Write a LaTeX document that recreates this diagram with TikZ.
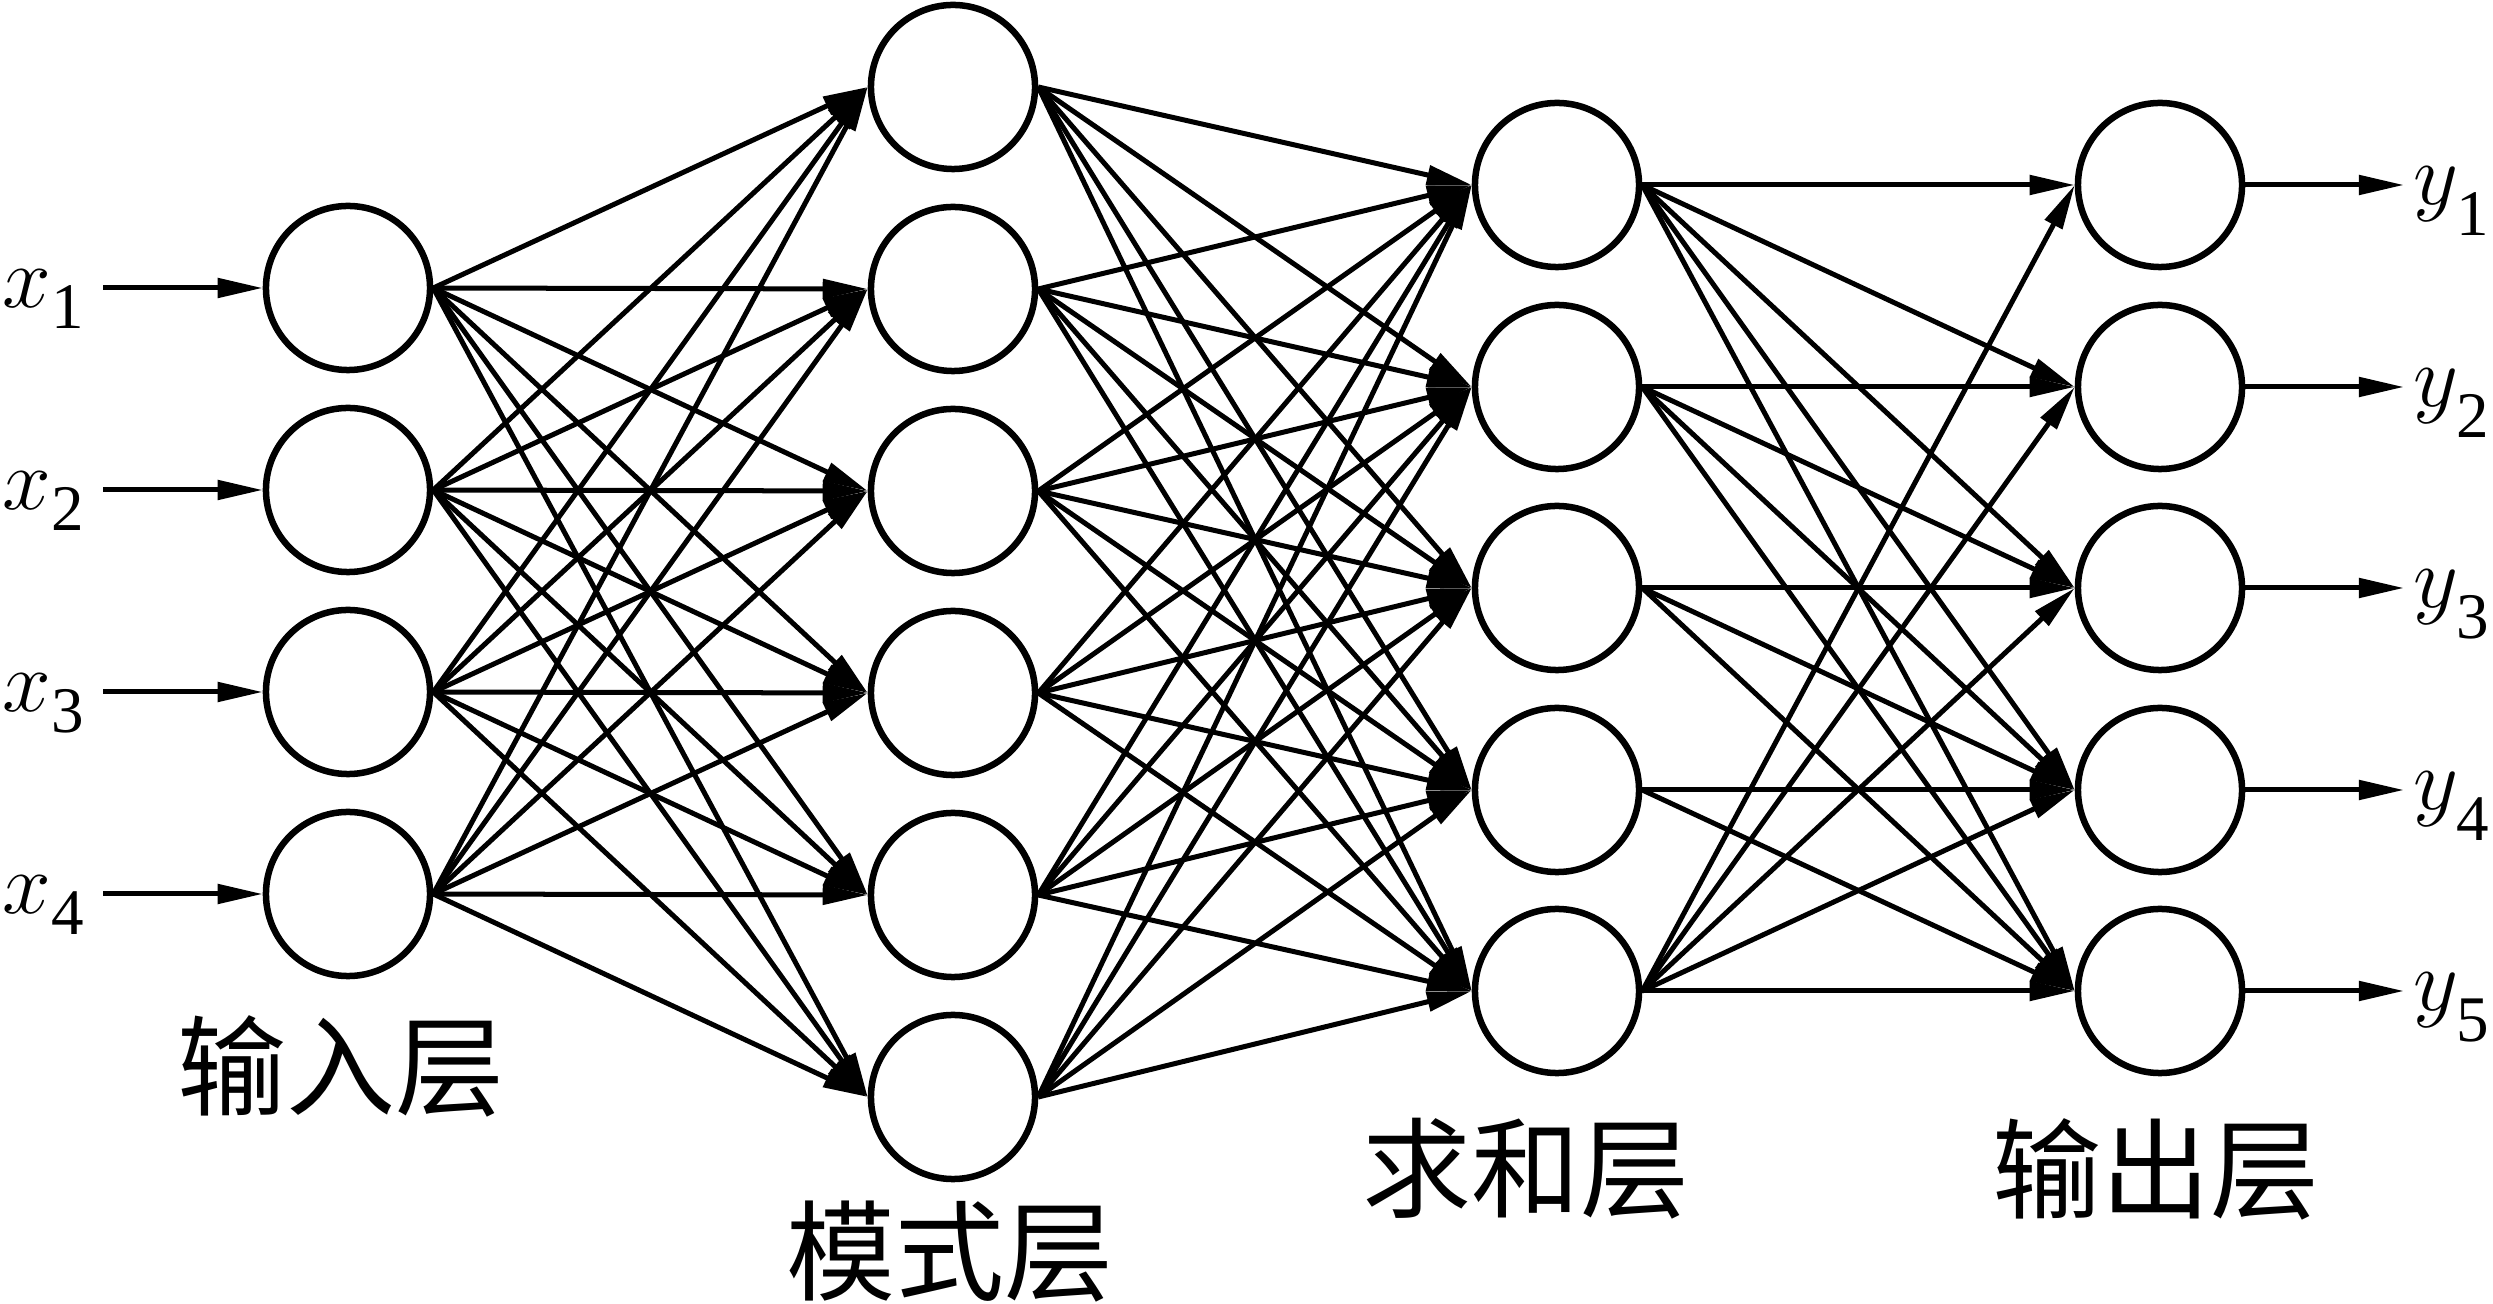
\documentclass[tikz,border=0pt]{standalone}
\usepackage{fontspec}
\setmainfont{Liberation Serif}[ItalicFont=Liberation Serif Italic]
\newfontfamily\cjk{Noto Sans CJK SC}
\usetikzlibrary{arrows.meta}
\newcommand{\subidx}[2]{\raisebox{-#1}{\fontsize{18.5}{18.5}\selectfont #2}}
\begin{document}
\begin{tikzpicture}[x=0.01cm,y=-0.01cm,
  neuron/.style={circle,draw,line width=0.065cm,minimum size=1.64cm,inner sep=0pt,outer sep=0.032cm},
  conn/.style={line width=0.05cm,-{Triangle[length=0.45cm,width=0.19cm]}},
  lbl/.style={font=\fontsize{34}{34}\selectfont,inner sep=0pt},
  layer/.style={font=\cjk\fontsize{31}{31}\selectfont,inner sep=0pt}]
\useasboundingbox (0,0) rectangle (2493,1304);

% input layer
\foreach \i/\y in {1/288,2/490,3/692,4/894}{
  \node[neuron] (in\i) at (348,\y) {};
  \coordinate (xs\i) at (103,\y);
  \node[lbl,anchor=base west] (xl\i) at (2,\y+20) {$x$\subidx{0.2cm}{\i}};
  \draw[conn] (xs\i) -- (in\i.west);
}
% pattern layer
\foreach \j/\y in {1/87,2/289,3/491,4/693,5/895,6/1097}{
  \node[neuron] (pat\j) at (953,\y) {};
}
% summation layer
\foreach \k/\y in {1/185,2/387,3/588,4/790,5/991}{
  \node[neuron] (sum\k) at (1557,\y) {};
}
% output layer
\foreach \k/\y in {1/185,2/387,3/588,4/790,5/991}{
  \node[neuron] (out\k) at (2160,\y) {};
  \coordinate (ye\k) at (2404,\y);
  \node[lbl,anchor=base west] (yl\k) at (2413,\y+20) {$y$\kern-0.02cm\subidx{0.3cm}{\k}};
  \draw[conn] (out\k.east) -- (ye\k);
}

% connections
\foreach \i in {1,...,4}{
  \foreach \j in {1,...,6}{
    \draw[conn] (in\i.east) -- (pat\j.west);
  }
}
\foreach \j in {1,...,6}{
  \foreach \k in {1,...,5}{
    \draw[conn] (pat\j.east) -- (sum\k.west);
  }
}
\foreach \k in {1,...,5}{
  \foreach \m in {\k,...,5}{
    \draw[conn] (sum\k.east) -- (out\m.west);
  }
}
\foreach \m in {1,...,4}{
  \draw[conn] (sum5.east) -- (out\m.west);
}

% layer labels
\node[layer] (L1) at (341,1066) {输入层};
\node[layer] (L2) at (950,1252) {模式层};
\node[layer] (L3) at (1526,1169) {求和层};
\node[layer] (L4) at (2156,1169) {输出层};
\end{tikzpicture}
\end{document}
